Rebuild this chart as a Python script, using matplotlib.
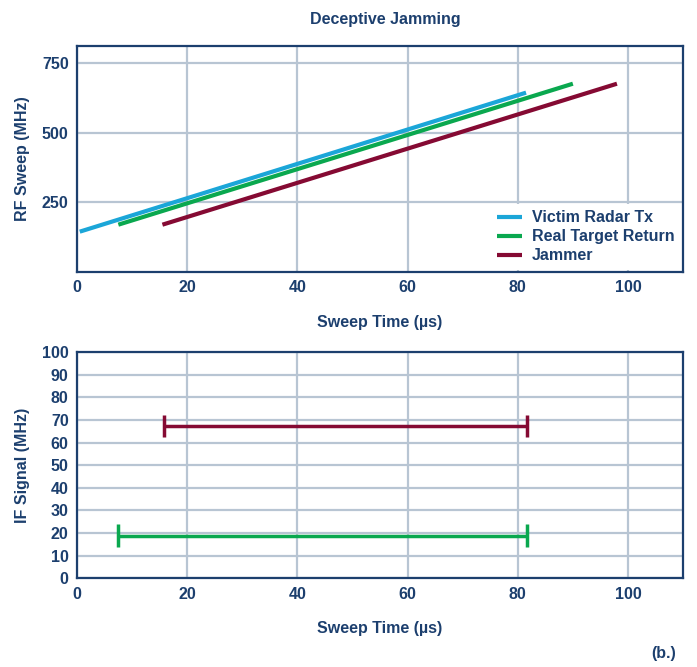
import matplotlib
matplotlib.use("Agg")
import matplotlib.pyplot as plt

plt.rcParams['font.family'] = ['Liberation Sans', 'DejaVu Sans']
plt.rcParams['font.weight'] = 'bold'

NAVY = '#1c3f6e'
GRID = '#b8c5d3'
BLUE = '#1ba6d8'
GREEN = '#0aa84f'
MAROON = '#850a33'
FS = 11.5

# RF sweeps: (time start, time end), (freq start, freq end)
victim_t = [0.5, 81.5]
victim_f = [145, 643]
target_t = [7.5, 90]
target_f = [170, 675]
jammer_t = [15.5, 98]
jammer_f = [170, 675]

# IF beat signals
if_jammer_t = [15.7, 81.7]
if_jammer_f = 67.3
if_target_t = [7.5, 81.7]
if_target_f = 18.8

fig = plt.figure(figsize=(6.97, 6.67), dpi=100)
ax1 = fig.add_axes([0.1105, 0.592, 0.8695, 0.339])
ax2 = fig.add_axes([0.1105, 0.133, 0.8695, 0.339])


def style(ax, ylabel):
    ax.set_xlim(0, 110)
    ax.set_xticks([0, 20, 40, 60, 80, 100])
    ax.grid(True, color=GRID, linewidth=1.6)
    ax.set_axisbelow(True)
    for s in ax.spines.values():
        s.set_color(NAVY)
        s.set_linewidth(1.6)
    ax.tick_params(length=0, pad=6, labelsize=FS, labelcolor=NAVY)
    for lab in ax.get_xticklabels() + ax.get_yticklabels():
        lab.set_fontweight('bold')
    ax.set_xlabel('Sweep Time (µs)', color=NAVY, fontsize=FS, fontweight='bold', va='center')
    ax.xaxis.set_label_coords(0.5, -0.222)
    ax.set_ylabel(ylabel, color=NAVY, fontsize=FS, fontweight='bold', va='center')
    ax.yaxis.set_label_coords(-0.09, 0.5)


ax1.plot(victim_t, victim_f, color=BLUE, lw=3, solid_capstyle='butt', label='Victim Radar Tx')
ax1.plot(target_t, target_f, color=GREEN, lw=3, solid_capstyle='butt', label='Real Target Return')
ax1.plot(jammer_t, jammer_f, color=MAROON, lw=3, solid_capstyle='butt', label='Jammer')
ax1.set_ylim(0, 810)
ax1.set_yticks([250, 500, 750])
style(ax1, 'RF Sweep (MHz)')
ax1.set_title('Deceptive Jamming', color=NAVY, fontsize=FS, fontweight='bold', pad=16, x=0.509)
leg = ax1.legend(loc='lower right', frameon=True, facecolor='white', edgecolor='none',
                 framealpha=1, fancybox=False, borderaxespad=0.15, handlelength=1.6,
                 handletextpad=0.6, labelspacing=0.25, fontsize=FS)
for t in leg.get_texts():
    t.set_color(NAVY)
    t.set_fontweight('bold')

for t, f, c in [(if_jammer_t, if_jammer_f, MAROON), (if_target_t, if_target_f, GREEN)]:
    ax2.plot(t, [f, f], color=c, lw=2.5, solid_capstyle='butt')
    ax2.vlines(t, f - 5, f + 5, color=c, lw=2.5)
ax2.set_ylim(0, 100)
ax2.set_yticks(range(0, 101, 10))
style(ax2, 'IF Signal (MHz)')

fig.text(0.97, 0.013, '(b.)', color=NAVY, fontsize=FS, fontweight='bold', ha='right')

fig.savefig('out.png', dpi=100)
